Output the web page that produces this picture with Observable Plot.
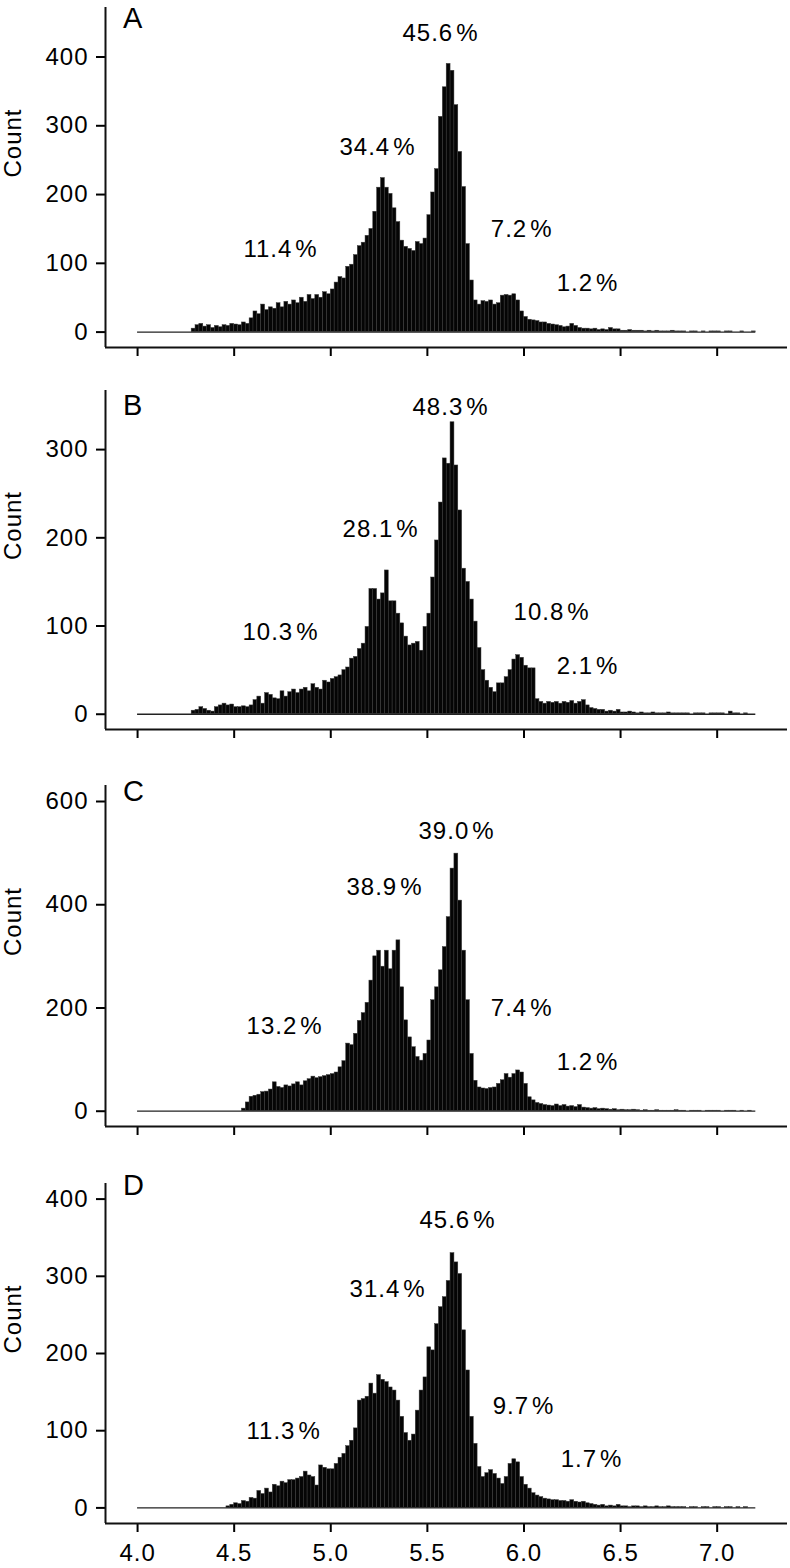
<!DOCTYPE html>
<html><head><meta charset="utf-8">
<script src="https://cdn.jsdelivr.net/npm/d3@7"></script>
<script src="https://cdn.jsdelivr.net/npm/@observablehq/plot@0.6"></script>
<style>
body{margin:0;background:#fff;width:790px;height:1568px;position:relative;overflow:hidden;}
.panel{position:absolute;left:0;}
</style></head><body>
<script>
// ---------- data ----------
const binStart = 4.0;
const binWidth = 0.02;
const xTicks = [4.0, 4.5, 5.0, 5.5, 6.0, 6.5, 7.0];
const panelNames = ["A", "B", "C", "D"];

// counts per 0.02 bin, 4.00 .. 7.18 (10 bins per row)
const countsA = [
  0,0,0,0,0,0,0,0,0,0,
  0,0,0,0,5,10,12,8,10,6,
  9,7,10,9,12,11,10,14,12,20,
  30,26,40,32,36,34,42,36,44,40,
  46,42,50,44,54,48,54,50,58,55,
  62,72,80,78,95,98,112,125,130,140,
  150,175,210,224,210,201,180,160,133,124,
  121,118,131,128,136,170,203,237,313,356,
  390,380,330,262,211,128,75,46,40,45,
  44,46,40,42,53,54,53,55,46,30,
  22,18,17,16,14,14,12,11,10,9,
  7,8,12,9,6,5,5,4,5,3,
  4,3,6,4,4,2,2,3,2,2,
  2,1,2,1,2,1,1,1,2,1,
  1,1,0,1,1,0,1,0,1,1,
  1,0,1,1,0,0,1,0,0,1
];
const countsB = [
  0,0,0,0,0,0,0,0,0,0,
  0,0,0,0,4,5,8,6,4,3,
  8,10,12,10,11,8,8,9,8,10,
  16,20,12,24,22,18,17,26,20,25,
  28,24,28,30,26,34,30,28,38,36,
  40,42,44,50,53,63,65,74,80,99,
  142,142,130,137,163,128,128,114,103,88,
  78,80,82,72,99,114,155,197,240,290,
  284,331,282,231,165,150,130,105,75,50,
  38,30,25,35,35,42,50,62,67,64,
  55,52,52,17,14,12,14,13,14,12,
  14,13,15,12,14,16,10,7,6,5,
  5,3,4,3,5,2,2,3,2,1,
  2,1,1,2,1,1,1,2,1,1,
  1,1,1,0,1,1,1,0,1,1,
  1,1,0,3,1,1,0,1,0,0
];
const countsC = [
  0,0,0,0,0,0,0,0,0,0,
  0,0,0,0,0,0,0,0,0,0,
  0,0,0,0,0,0,0,5,17,28,
  30,32,37,38,42,56,47,45,50,48,
  52,56,50,58,62,67,64,66,68,70,
  72,75,85,97,131,128,150,175,190,210,
  253,300,311,280,311,275,311,331,240,176,
  143,124,105,98,111,137,215,240,273,318,
  376,470,499,408,311,215,111,59,46,44,
  43,45,46,53,60,72,65,72,79,75,
  53,27,21,16,14,12,11,10,13,10,
  12,9,10,8,12,7,6,5,6,4,
  5,4,3,4,2,3,2,2,3,2,
  1,2,1,1,2,1,1,1,1,2,
  1,1,0,1,1,1,0,1,1,1,
  1,0,1,1,1,0,1,0,1,0
];
const countsD = [
  0,0,0,0,0,0,0,0,0,0,
  0,0,0,0,0,0,0,0,0,0,
  0,0,0,2,4,6,5,9,8,13,
  12,22,18,25,20,30,28,34,32,36,
  36,38,40,47,42,40,29,55,52,50,
  50,57,65,70,80,87,103,139,141,144,
  161,148,172,166,163,156,152,139,118,97,
  87,95,126,152,169,208,204,238,260,273,
  294,330,318,303,230,178,118,83,53,40,
  45,49,44,38,31,40,57,63,59,40,
  30,25,19,16,14,12,11,10,10,9,
  9,8,10,8,7,8,6,5,4,3,
  4,2,3,2,4,2,2,1,2,2,
  1,2,1,1,2,1,1,2,1,1,
  1,1,0,1,1,0,1,1,0,1,
  1,0,1,1,0,1,0,1,0,0
];

const yTicksA = [0, 100, 200, 300, 400];
const yTicksB = [0, 100, 200, 300];
const yTicksC = [0, 200, 400, 600];
const yTicksD = [0, 100, 200, 300, 400];

const pctA = ["11.4", "34.4", "45.6", "7.2", "1.2"];
const pctB = ["10.3", "28.1", "48.3", "10.8", "2.1"];
const pctC = ["13.2", "38.9", "39.0", "7.4", "1.2"];
const pctD = ["11.3", "31.4", "45.6", "9.7", "1.7"];

// label anchor positions (data coordinates)
const pctXA = [4.740, 5.242, 5.568, 5.988, 6.329];
const pctYA = [120, 269, 434, 149, 71];
const pctXB = [4.740, 5.258, 5.620, 6.143, 6.329];
const pctYB = [93, 210, 348, 116, 54];
const pctXC = [4.761, 5.278, 5.651, 5.988, 6.329];
const pctYC = [164, 434, 542, 199, 94];
const pctXD = [4.756, 5.294, 5.656, 5.998, 6.350];
const pctYD = [99, 283, 372, 131, 63];

// ---------- layout ----------
const FONT = '"Liberation Sans", Arial, Helvetica, sans-serif';
const xDomain = [3.834, 7.364];
const layout = [
  {counts: countsA, yTicks: yTicksA, pct: pctA, px: pctXA, py: pctYA, T: 7,    B: 347,  yDomain: [-22.4, 472],   letterY: 456},
  {counts: countsB, yTicks: yTicksB, pct: pctB, px: pctXB, py: pctYB, T: 390,  B: 729,  yDomain: [-17.3, 367],   letterY: 350},
  {counts: countsC, yTicks: yTicksC, pct: pctC, px: pctXC, py: pctYC, T: 785,  B: 1126, yDomain: [-29.6, 631],   letterY: 618},
  {counts: countsD, yTicks: yTicksD, pct: pctD, px: pctXD, py: pctYD, T: 1183, B: 1523, yDomain: [-20.2, 420.2], letterY: 417}
];

layout.forEach((p, k) => {
  const last = k === layout.length - 1;
  const bins = p.counts.map((c, i) => ({x1: binStart + i * binWidth, x2: binStart + (i + 1) * binWidth, count: c}));
  const ann = p.pct.map((t, i) => ({x: p.px[i], y: p.py[i], text: t + "\u200A%"}));
  const mt = 7, mb = last ? 46 : 22;
  const h = mt + (p.B - p.T) + mb;
  const svg = Plot.plot({
    width: 790, height: h,
    marginTop: mt, marginBottom: mb, marginLeft: 105, marginRight: 3,
    x: {domain: xDomain},
    y: {domain: p.yDomain},
    style: {fontFamily: FONT, fontSize: "24px", letterSpacing: "1px", color: "#000", background: "transparent", overflow: "visible"},
    marks: [
      Plot.rect(bins, {x1: "x1", x2: "x2", y1: 0, y2: "count", fill: "#050505", stroke: "#3a3a3a", strokeWidth: 0.5}),
      Plot.ruleY([0], {x1: bins[0].x1, x2: bins[bins.length - 1].x2, stroke: "#222", strokeWidth: 1.3}),
      Plot.axisY({ticks: p.yTicks, tickSize: 9, tickPadding: 8, label: null, strokeWidth: 2, fontSize: 24}),
      Plot.axisX({ticks: xTicks, tickSize: 9, tickPadding: 11, label: null, strokeWidth: 2, fontSize: 24,
                  tickFormat: last ? d3.format(".1f") : () => ""}),
      Plot.ruleX([xDomain[0]], {y1: p.yDomain[0], y2: p.yDomain[1], stroke: "#111", strokeWidth: 2}),
      Plot.ruleY([p.yDomain[0]], {x1: xDomain[0], x2: xDomain[1], stroke: "#111", strokeWidth: 2}),
      Plot.text(ann, {x: "x", y: "y", text: "text", fontSize: 24, fill: "#000"}),
      Plot.text([panelNames[k]], {x: 3.925, y: p.letterY, text: d => d, textAnchor: "start", fontSize: 29, fill: "#000"}),
      Plot.text(["Count"], {text: d => d, frameAnchor: "left", dx: -92, rotate: -90, fontSize: 24, fill: "#000"})
    ]
  });
  const div = document.createElement("div");
  div.className = "panel";
  div.style.top = (p.T - mt) + "px";
  div.appendChild(svg);
  document.body.appendChild(div);
});
</script>
</body></html>
